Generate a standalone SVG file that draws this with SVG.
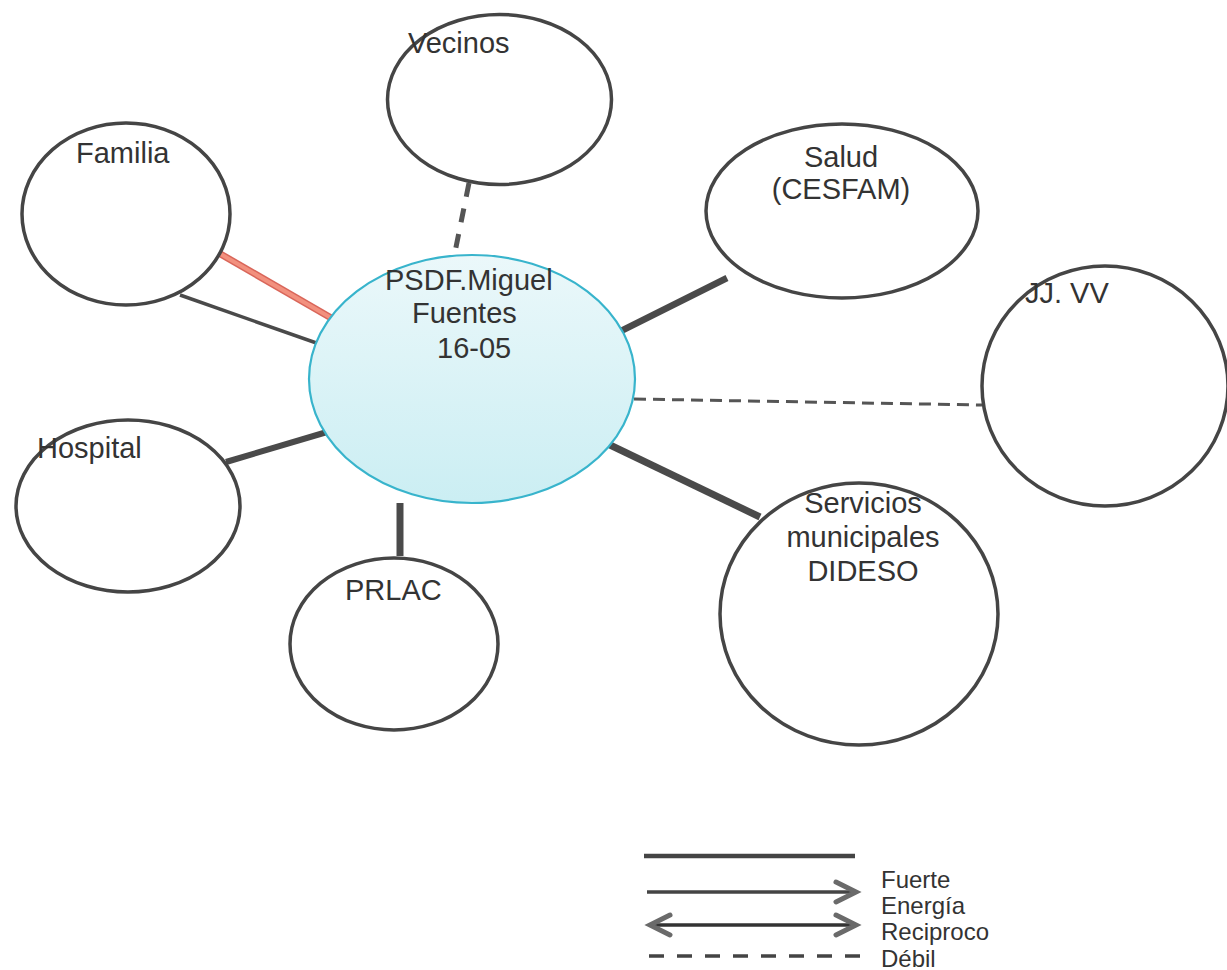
<svg xmlns="http://www.w3.org/2000/svg" width="1227" height="970" viewBox="0 0 1227 970">
<defs>
<linearGradient id="cg" x1="0" y1="0" x2="0" y2="1">
<stop offset="0" stop-color="#ebf8fa"/>
<stop offset="1" stop-color="#cbeef3"/>
</linearGradient>
<style>
.node{fill:#fff;stroke:#454545;stroke-width:3.5}
.center{fill:url(#cg);stroke:#38b4cc;stroke-width:2.2}
.lbl{font-family:"Liberation Sans",Arial,sans-serif;font-size:29px;fill:#333}
.leg{font-family:"Liberation Sans",Arial,sans-serif;font-size:24px;fill:#333}
.strong{stroke:#4a4a4a;fill:none}
.weak{stroke:#555;fill:none}
.head{stroke:#6a6a6a;stroke-width:5;fill:none;stroke-linecap:round;stroke-linejoin:miter}
</style>
</defs>
<rect width="1227" height="970" fill="#fff"/>
<g id="connectors">
<line class="weak" x1="469" y1="183" x2="455" y2="252" stroke-width="5" stroke-dasharray="14 12" stroke="#666"/>
<line x1="217" y1="252" x2="333" y2="319" stroke="#d9665a" stroke-width="7"/>
<line x1="217" y1="252" x2="333" y2="319" stroke="#f2907e" stroke-width="4"/>
<line class="strong" x1="180" y1="295" x2="325" y2="346" stroke-width="3.5"/>
<line class="strong" x1="615" y1="334" x2="727" y2="278" stroke-width="6.5"/>
<line class="weak" x1="634" y1="399" x2="982" y2="405" stroke-width="3" stroke-dasharray="12 7" stroke="#333"/>
<line class="strong" x1="610" y1="445" x2="760" y2="517" stroke-width="7"/>
<line class="strong" x1="327" y1="432" x2="226" y2="462" stroke-width="6"/>
<line class="strong" x1="400" y1="503" x2="400" y2="556" stroke-width="7"/>
</g>
<g id="node-center">
<ellipse class="center" cx="472" cy="379" rx="163" ry="124"/>
<text class="lbl" x="385" y="290">PSDF.Miguel</text>
<text class="lbl" x="412" y="323">Fuentes</text>
<text class="lbl" x="437" y="358">16-05</text>
</g>
<g id="node-vecinos">
<ellipse class="node" cx="499.5" cy="99.5" rx="112" ry="85"/>
<text class="lbl" x="408" y="53">Vecinos</text>
</g>
<g id="node-familia">
<ellipse class="node" cx="126" cy="214" rx="104" ry="91"/>
<text class="lbl" x="76" y="163">Familia</text>
</g>
<g id="node-salud">
<ellipse class="node" cx="842" cy="211" rx="136" ry="87"/>
<text class="lbl" x="841" y="167" text-anchor="middle">Salud</text>
<text class="lbl" x="841" y="199" text-anchor="middle">(CESFAM)</text>
</g>
<g id="node-jjvv">
<ellipse class="node" cx="1105" cy="386" rx="123" ry="120"/>
<text class="lbl" x="1025" y="303">JJ. VV</text>
</g>
<g id="node-hospital">
<ellipse class="node" cx="128" cy="506" rx="112" ry="86"/>
<text class="lbl" x="37" y="458">Hospital</text>
</g>
<g id="node-prlac">
<ellipse class="node" cx="394" cy="644" rx="104" ry="86"/>
<text class="lbl" x="345" y="600">PRLAC</text>
</g>
<g id="node-servicios">
<ellipse class="node" cx="859" cy="614" rx="139" ry="131"/>
<text class="lbl" x="863" y="513" text-anchor="middle">Servicios</text>
<text class="lbl" x="863" y="547" text-anchor="middle">municipales</text>
<text class="lbl" x="863" y="581" text-anchor="middle">DIDESO</text>
</g>
<g id="legend">
<line x1="644" y1="856" x2="855" y2="856" stroke="#444" stroke-width="4.5"/>
<line x1="647" y1="892" x2="855" y2="892" stroke="#444" stroke-width="3.5"/>
<polyline class="head" points="836,882 856,892 836,902"/>
<line x1="652" y1="925" x2="855" y2="925" stroke="#333" stroke-width="3.5"/>
<polyline class="head" points="836,915 856,925 836,935"/>
<polyline class="head" points="670,915 650,925 670,935"/>
<line x1="649" y1="956" x2="860" y2="956" stroke="#444" stroke-width="3.5" stroke-dasharray="15 13"/>
<text class="leg" x="881" y="888">Fuerte</text>
<text class="leg" x="881" y="914">Energía</text>
<text class="leg" x="881" y="940">Reciproco</text>
<text class="leg" x="881" y="967">Débil</text>
</g>
</svg>
